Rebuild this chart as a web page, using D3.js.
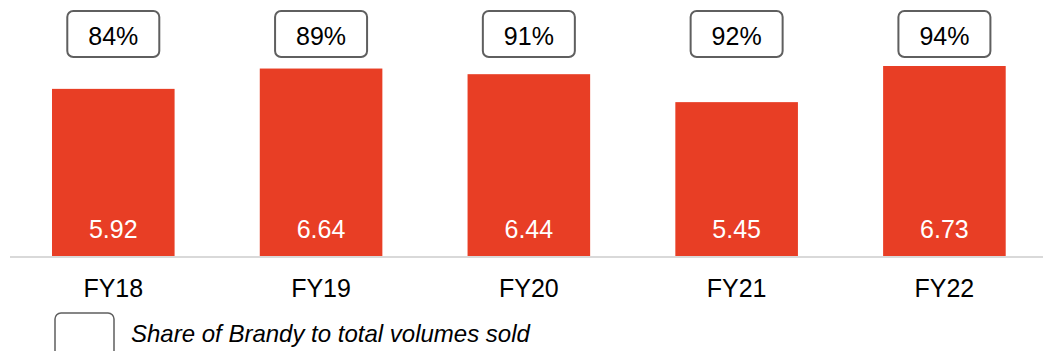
<!DOCTYPE html>
<html>
<head>
<meta charset="utf-8">
<script src="https://cdn.jsdelivr.net/npm/d3@7"></script>
<style>
  html, body { margin: 0; padding: 0; background: #fff; }
  svg { display: block; font-family: "Liberation Sans", Arial, sans-serif; }
</style>
</head>
<body>
<svg id="chart" width="1043" height="351"></svg>
<script>
var years = ["FY18", "FY19", "FY20", "FY21", "FY22"];
var volumes = [5.92, 6.64, 6.44, 5.45, 6.73];
var shares = ["84%", "89%", "91%", "92%", "94%"];
var legendText = "Share of Brandy to total volumes sold";

var svg = d3.select("#chart"),
    width = +svg.attr("width"),
    baseY = 256;

var x = d3.scaleBand()
      .domain(years)
      .range([9.4, 1048.3])
      .paddingInner(0.41)
      .paddingOuter(0.205);

var y = d3.scaleLinear()
      .domain([0, 6.73])
      .range([baseY, 66]);

var data = years.map(function(d, i) {
  return { year: d, value: volumes[i], share: shares[i] };
});

// bars
svg.append("g")
  .selectAll("rect")
  .data(data)
  .enter().append("rect")
  .attr("x", function(d) { return x(d.year); })
  .attr("y", function(d) { return y(d.value); })
  .attr("width", x.bandwidth())
  .attr("height", function(d) { return baseY - y(d.value); })
  .attr("fill", "#e83e25");

// baseline
svg.append("line")
  .attr("x1", 10).attr("x2", width)
  .attr("y1", baseY + 1).attr("y2", baseY + 1)
  .attr("stroke", "#d9d9d9")
  .attr("stroke-width", 2);

// values inside bars
svg.append("g")
  .selectAll("text")
  .data(data)
  .enter().append("text")
  .attr("x", function(d) { return x(d.year) + x.bandwidth() / 2; })
  .attr("y", 238)
  .attr("text-anchor", "middle")
  .attr("fill", "#fff")
  .attr("font-size", 25)
  .text(function(d) { return d3.format(".2f")(d.value); });

// category labels
svg.append("g")
  .selectAll("text")
  .data(data)
  .enter().append("text")
  .attr("x", function(d) { return x(d.year) + x.bandwidth() / 2; })
  .attr("y", 297)
  .attr("text-anchor", "middle")
  .attr("fill", "#000")
  .attr("font-size", 25)
  .text(function(d) { return d.year; });

// share boxes
var boxes = svg.append("g")
  .selectAll("g")
  .data(data)
  .enter().append("g")
  .attr("transform", function(d) {
    return "translate(" + (x(d.year) + x.bandwidth() / 2) + ",0)";
  });

boxes.append("rect")
  .attr("x", -46).attr("y", 11)
  .attr("width", 92).attr("height", 46)
  .attr("rx", 6)
  .attr("fill", "#fff")
  .attr("stroke", "#5f5f5f")
  .attr("stroke-width", 2);

boxes.append("text")
  .attr("y", 45)
  .attr("text-anchor", "middle")
  .attr("font-size", 25)
  .attr("fill", "#000")
  .text(function(d) { return d.share; });

// legend
svg.append("rect")
  .attr("x", 55).attr("y", 313)
  .attr("width", 59).attr("height", 48)
  .attr("rx", 6)
  .attr("fill", "#fff")
  .attr("stroke", "#5f5f5f")
  .attr("stroke-width", 1.5);

svg.append("text")
  .attr("x", 131).attr("y", 342)
  .attr("font-size", 24)
  .attr("font-style", "italic")
  .attr("fill", "#000")
  .text(legendText);
</script>
</body>
</html>
